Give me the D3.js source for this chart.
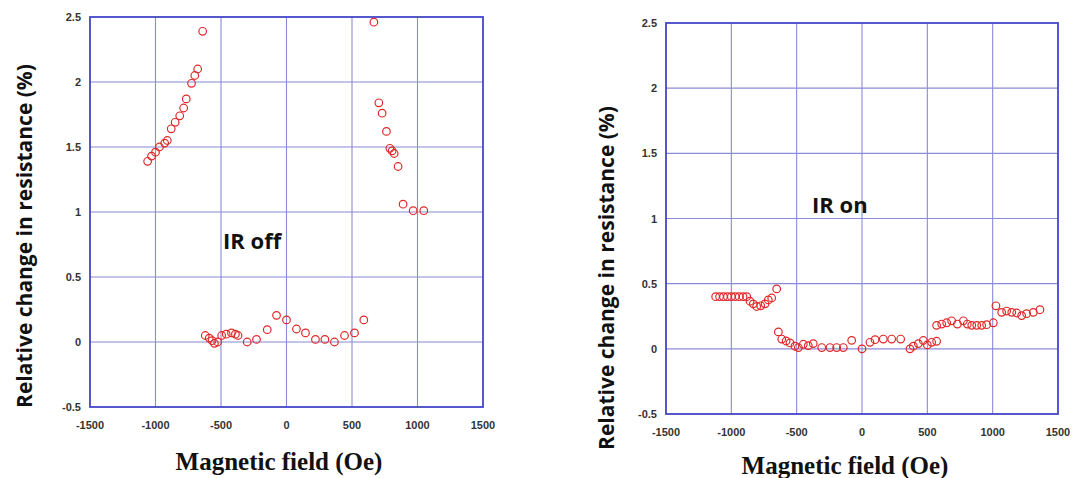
<!DOCTYPE html>
<html>
<head>
<meta charset="utf-8">
<script src="https://cdn.jsdelivr.net/npm/d3@7"></script>
<style>
  body { margin: 0; background: #fff; }
  .tick-label { font-family: "Liberation Sans", Arial, sans-serif; font-weight: bold; font-size: 11px; fill: #333; }
  .y-title { font-family: "Open Sans", sans-serif; font-weight: bold; font-size: 21px; fill: #111; }
  .x-title { font-family: "Liberation Serif", "Times New Roman", serif; font-weight: bold; font-size: 25px; fill: #111; }
  .note { font-family: "Open Sans", sans-serif; font-weight: bold; font-size: 22px; fill: #111; }
</style>
</head>
<body>
<div id="chart"></div>
<script>
(function() {
  var W = 1077, H = 478;

  var xTicks = [-1500, -1000, -500, 0, 500, 1000, 1500];
  var yTicks = [-0.5, 0, 0.5, 1, 1.5, 2, 2.5];

  // IR off: field (Oe) and relative change (%)
  var offField = [-1060, -1030, -1000, -970, -930, -910, -880, -850, -815, -785, -765, -725, -700, -678, -640,
                  667, 705, 730, 763, 789, 806, 822, 852, 890, 967, 1048,
                  -620, -590, -568, -550, -525, -495, -460, -420, -390, -370, -300, -229, -147, -76, 0,
                  76, 145, 221, 293, 366, 443, 519, 590];
  var offRes   = [1.39, 1.43, 1.46, 1.50, 1.53, 1.55, 1.64, 1.69, 1.74, 1.80, 1.87, 1.99, 2.05, 2.10, 2.39,
                  2.46, 1.84, 1.76, 1.62, 1.49, 1.47, 1.45, 1.35, 1.06, 1.01, 1.01,
                  0.05, 0.03, 0.01, -0.01, 0.0, 0.05, 0.06, 0.07, 0.06, 0.05, 0.0, 0.02, 0.095, 0.205, 0.17,
                  0.10, 0.07, 0.02, 0.02, 0.0, 0.05, 0.07, 0.17];

  // IR on
  var onField = [-1120, -1090, -1060, -1030, -1000, -970, -940, -910, -882, -857, -832, -806, -775, -742, -717, -691, -653,
                 -640, -614, -581, -551, -513, -487, -449, -411, -373, -308, -245, -194, -143, -79, 0,
                 61, 100, 163, 227, 296, 367, 393, 431, 469, 500, 533, 571,
                 571, 610, 648, 686, 730, 776, 806, 840, 878, 916, 954, 1005,
                 1025, 1069, 1107, 1146, 1184, 1222, 1260, 1311, 1362];
  var onRes   = [0.40, 0.40, 0.40, 0.40, 0.40, 0.40, 0.40, 0.40, 0.40, 0.365, 0.345, 0.325, 0.33, 0.345, 0.375, 0.39, 0.46,
                 0.13, 0.075, 0.06, 0.045, 0.02, 0.01, 0.035, 0.025, 0.04, 0.01, 0.01, 0.01, 0.01, 0.065, 0.0,
                 0.05, 0.07, 0.075, 0.075, 0.075, 0.0, 0.02, 0.04, 0.064, 0.03, 0.05, 0.058,
                 0.18, 0.19, 0.20, 0.215, 0.19, 0.215, 0.19, 0.18, 0.18, 0.18, 0.185, 0.20,
                 0.33, 0.28, 0.29, 0.28, 0.275, 0.255, 0.27, 0.28, 0.30];

  var svg = d3.select("#chart").append("svg")
      .attr("width", W)
      .attr("height", H);

  function panel(opt) {
    var x = d3.scaleLinear().domain([-1500, 1500]).range([opt.left, opt.right]);
    var y = d3.scaleLinear().domain([-0.5, 2.5]).range([opt.bottom, opt.top]);
    var g = svg.append("g");

    // grid
    g.selectAll(".vgrid").data(xTicks.slice(1, -1)).enter().append("line")
      .attr("x1", d => x(d)).attr("x2", d => x(d))
      .attr("y1", opt.top).attr("y2", opt.bottom)
      .attr("stroke", "#8a8ad8").attr("stroke-width", 1.1);
    g.selectAll(".hgrid").data(yTicks.slice(1, -1)).enter().append("line")
      .attr("x1", opt.left).attr("x2", opt.right)
      .attr("y1", d => y(d)).attr("y2", d => y(d))
      .attr("stroke", "#8a8ad8").attr("stroke-width", 1.1);

    // frame
    g.append("rect")
      .attr("x", opt.left).attr("y", opt.top)
      .attr("width", opt.right - opt.left).attr("height", opt.bottom - opt.top)
      .attr("fill", "none").attr("stroke", "#4646c8").attr("stroke-width", 1.8);

    // tick labels
    g.selectAll(".xl").data(xTicks).enter().append("text")
      .attr("class", "tick-label")
      .attr("x", d => x(d)).attr("y", opt.bottom + 22)
      .attr("text-anchor", "middle")
      .text(d => d);
    g.selectAll(".yl").data(yTicks).enter().append("text")
      .attr("class", "tick-label")
      .attr("x", opt.left - 9).attr("y", d => y(d) + 4)
      .attr("text-anchor", "end")
      .text(d => d);

    // points
    g.selectAll(".pt").data(opt.fx).enter().append("circle")
      .attr("cx", d => x(d))
      .attr("cy", (d, i) => y(opt.fy[i]))
      .attr("r", 3.8)
      .attr("fill", "none")
      .attr("stroke", "#e02828")
      .attr("stroke-width", 1.2);

    // titles
    g.append("text").attr("class", "x-title")
      .attr("x", opt.xtx).attr("y", opt.xty)
      .attr("text-anchor", "middle")
      .text("Magnetic field (Oe)");
    g.append("text").attr("class", "y-title")
      .attr("transform", "translate(" + opt.ytx + "," + opt.yty + ") rotate(-90)")
      .attr("text-anchor", "middle")
      .text("Relative change in resistance (%)");
    g.append("text").attr("class", "note")
      .attr("x", opt.nx).attr("y", opt.ny)
      .text(opt.note);
  }

  panel({left: 90, right: 483, top: 17, bottom: 407, fx: offField, fy: offRes,
         xtx: 279, xty: 470, ytx: 32, yty: 236, nx: 223, ny: 249, note: "IR off"});
  panel({left: 666, right: 1058, top: 23, bottom: 414, fx: onField, fy: onRes,
         xtx: 845, xty: 474, ytx: 614, yty: 278, nx: 812, ny: 213, note: "IR on"});
})();
</script>
</body>
</html>
